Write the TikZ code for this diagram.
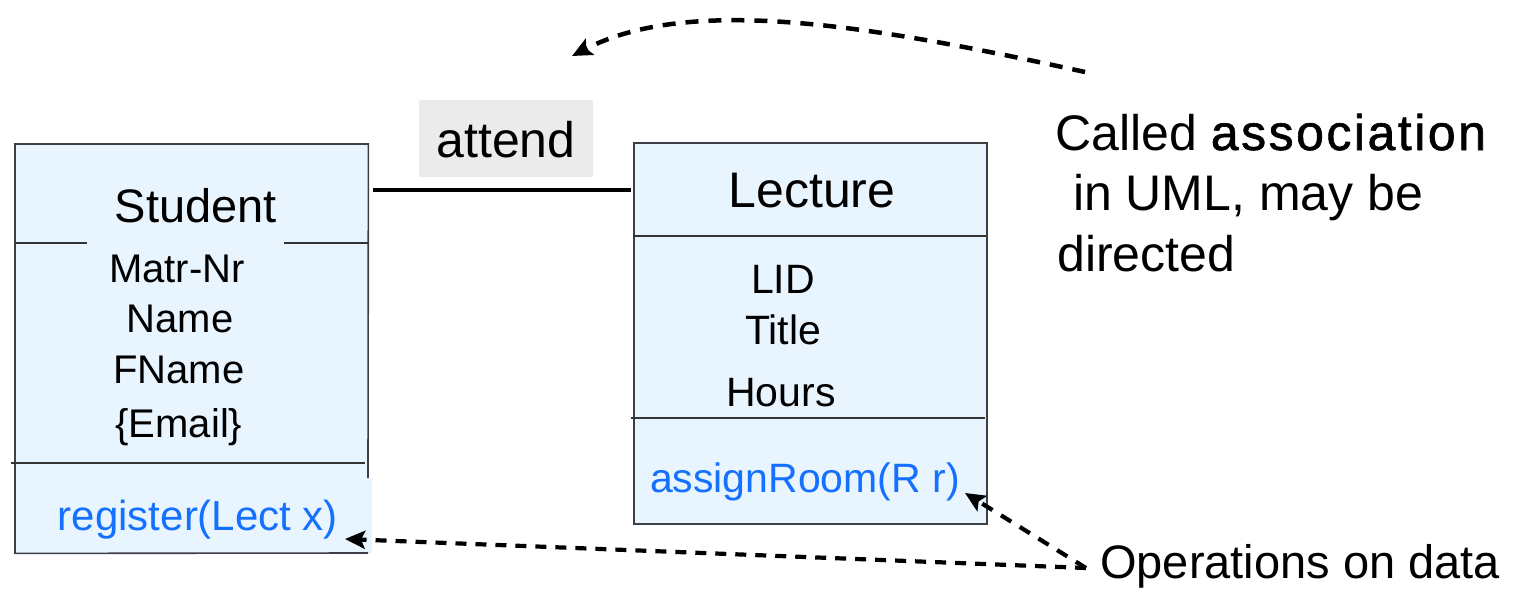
\documentclass[tikz,border=0pt]{standalone}
\usepackage{fontspec}
\setmainfont{Liberation Sans}
\newfontfamily\heavierfont[FakeBold=1.2,LetterSpace=5]{Liberation Sans}
\usetikzlibrary{arrows.meta}
\definecolor{boxfill}{RGB}{232,244,254}
\definecolor{opblue}{RGB}{20,112,255}
\definecolor{labelgray}{RGB}{235,235,235}
\definecolor{edgegray}{RGB}{60,64,70}
\tikzset{
  fs/.style={font=\fontsize{#1}{#1}\selectfont},
  txt/.style={inner sep=0pt, anchor=base},
  optxt/.style={txt, text=opblue},
  classfill/.style={fill=boxfill, draw=none, inner sep=0pt, anchor=north west},
  classedge/.style={draw=edgegray, line width=1.6pt},
  sepline/.style={draw=black!80, line width=1.4pt},
  assocline/.style={line width=3.2pt},
  notearrow/.style={line width=#1, dash pattern=on 13pt off 10pt,
    -{Stealth[length=20pt,width=18pt,inset=4pt]}},
}
\begin{document}
\begin{tikzpicture}[x=1pt, y=-1pt]
\useasboundingbox (0,0) rectangle (1524,589);

% ---------- Student class ----------
\node[classfill, minimum width=353pt, minimum height=409pt] (student) at (15,144) {};
\node[classfill, minimum width=357pt, minimum height=75pt] (studentops) at (15,478) {};
\draw[classedge] (368,478) -- (student.north east) -- (student.north west)
  -- (student.south west) -- (368,553);
\draw[sepline] (15,243) -- (87,243);
\draw[sepline] (284,243) -- (368,243);
\draw[sepline] (11,463) -- (365,463);

\node[txt, fs=47] (sname) at (196,222) {Student};
\node[txt, fs=40] (s1) at (177,282) {Matr-Nr};
\node[txt, fs=40] (s2) at (180,332) {Name};
\node[txt, fs=40] (s3) at (179,383) {FName};
\node[txt, fs=40] (s4) at (179,437) {\{Email\}};
\node[optxt, fs=42] (register) at (198,530) {register(Lect x)};

% ---------- Lecture class ----------
\node[classfill, draw=edgegray, line width=1.6pt, minimum width=353pt, minimum height=381pt] (lecture) at (633,142) {};
\draw[sepline] (633,236) -- (986,236);
\draw[sepline] (631,418) -- (985,418);

\node[txt, fs=50] (lname) at (812,207) {Lecture};
\node[txt, fs=41] (l1) at (783,293) {LID};
\node[txt, fs=41] (l2) at (783,344) {Title};
\node[txt, fs=41] (l3) at (781,406) {Hours};
\node[optxt, fs=41] (assign) at (805,492) {assignRoom(R r)};

% ---------- association ----------
\node[fill=labelgray, inner sep=0pt, minimum width=174pt, minimum height=77pt] (attendbg) at (506,138.5) {};
\node[txt, fs=50] (attend) at (506,157) {attend};
\coordinate (assocL) at (373,190);
\coordinate (assocR) at (631,190);
\draw[assocline] (assocL) -- (assocR);

% ---------- notes ----------
\node[txt, anchor=base west, fs=50] (note1) at (1055,150) {Called {\heavierfont association}};
\node[txt, anchor=base west, fs=50] (note2) at (1059,210) {\ in UML, may be};
\node[txt, anchor=base west, fs=50] (note3) at (1057,271) {directed};
\node[txt, anchor=base west, fs=47] (ops) at (1100,578) {Operations on data};

\coordinate (noteStart) at (1085,72);
\coordinate (assocTip) at (572,56);
\draw[notearrow=4.5pt] (noteStart) .. controls (870,25) and (690,-5) .. (assocTip);

\coordinate (opsJoin) at (1086,568);
\coordinate (regTip) at (345,539);
\coordinate (assignTip) at (965,493);
\draw[notearrow=4.2pt, dash pattern=on 11pt off 9pt] (opsJoin) -- (regTip);
\draw[notearrow=4.2pt, dash pattern=on 12pt off 10pt] (opsJoin) -- (assignTip);
\end{tikzpicture}
\end{document}
